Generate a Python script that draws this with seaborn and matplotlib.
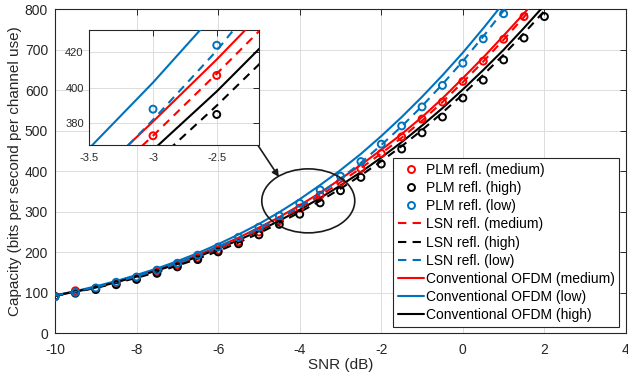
import numpy as np
import pandas as pd
import matplotlib
matplotlib.use("Agg")
import matplotlib.pyplot as plt
from matplotlib.lines import Line2D
from matplotlib.patches import Ellipse
import seaborn as sns

# ---------------- data ----------------
snr = [-10, -9.5, -9, -8.5, -8, -7.5, -7, -6.5, -6, -5.5, -5, -4.5, -4,
       -3.5, -3, -2.5, -2, -1.5, -1, -0.5, 0, 0.5, 1, 1.5, 2, 2.5]

# PLM reflection (markers)
plm_medium = [91, 105, 110, 123, 137, 152, 169, 186, 205, 226, 250, 278, 309,
              341, 373, 407, 444, 485, 529, 571, 622, 672, 726, 782]
plm_high = [91, 99, 108, 120, 133, 148, 164, 182, 201, 221, 243, 269, 294,
            322, 352, 385, 418, 455, 495, 534, 581, 625, 675, 729, 782]
plm_low = [90, 101, 112, 126, 139, 156, 173, 193, 213, 237, 262, 290, 321,
           354, 388, 424, 467, 512, 559, 612, 667, 727, 789]

# LSN reflection (dashed)
lsn_medium = [93, 102, 113, 125, 139, 154, 171, 189, 209, 231, 255, 281, 309,
              340, 373, 408, 444, 483, 525, 571, 620, 671, 725, 781, 840, 901]
lsn_high = [92, 102, 112, 124, 137, 151, 167, 184, 203, 224, 247, 272, 299,
            327, 357, 390, 425, 462, 502, 545, 590, 638, 688, 741, 796, 853]
lsn_low = [93, 103, 114, 127, 141, 156, 173, 192, 213, 235, 259, 285, 313,
           345, 382, 421, 465, 511, 561, 615, 672, 733, 797, 864, 934, 1006]

# Conventional OFDM (solid)
conv_medium = [93, 103, 114, 127, 141, 157, 174, 193, 214, 236, 261, 287, 316,
               347, 381, 416, 453, 492, 534, 580, 630, 681, 735, 790, 848, 908]
conv_low = [94, 104, 116, 129, 144, 160, 178, 198, 220, 244, 270, 299, 331,
            366, 403, 443, 487, 534, 584, 637, 693, 753, 816, 882, 951, 1023]
conv_high = [93, 103, 113, 126, 140, 155, 171, 189, 209, 230, 253, 278, 305,
             334, 365, 398, 434, 472, 513, 556, 602, 650, 700, 754, 810, 868]

x_ticks = [-10, -8, -6, -4, -2, 0, 2, 4]
y_ticks = [0, 100, 200, 300, 400, 500, 600, 700, 800]
inset_x_ticks = [-3.5, -3, -2.5]
inset_y_ticks = [380, 400, 420]

RED, BLACK, BLUE = "#FF0000", "#000000", "#0072BD"
AXC = "#262626"

series_markers = [("PLM refl. (medium)", plm_medium, RED),
                  ("PLM refl. (high)", plm_high, BLACK),
                  ("PLM refl. (low)", plm_low, BLUE)]
series_dashed = [("LSN refl. (medium)", lsn_medium, RED),
                 ("LSN refl. (high)", lsn_high, BLACK),
                 ("LSN refl. (low)", lsn_low, BLUE)]
series_solid = [("Conventional OFDM (medium)", conv_medium, RED),
                ("Conventional OFDM (low)", conv_low, BLUE),
                ("Conventional OFDM (high)", conv_high, BLACK)]

# ---------------- style ----------------
sns.set_theme(style="whitegrid")
plt.rcParams["font.family"] = ["Liberation Sans", "DejaVu Sans"]
plt.rcParams["axes.edgecolor"] = AXC
plt.rcParams["xtick.color"] = AXC
plt.rcParams["ytick.color"] = AXC

fig = plt.figure(figsize=(6.28, 3.80), dpi=100)
ax = fig.add_axes([55 / 628, 1 - 333.3 / 380, (626 - 55) / 628, (333.3 - 9.3) / 380])


def draw(a, lw=1.5, ms=5):
    for name, vals, c in series_solid:
        df = pd.DataFrame({"snr": snr[:len(vals)], "cap": vals})
        sns.lineplot(data=df, x="snr", y="cap", ax=a, color=c, lw=lw,
                     linestyle="-", legend=False, zorder=3)
    for name, vals, c in series_dashed:
        df = pd.DataFrame({"snr": snr[:len(vals)], "cap": vals})
        sns.lineplot(data=df, x="snr", y="cap", ax=a, color=c, lw=lw,
                     linestyle="--", dashes=False, legend=False, zorder=3)
        a.lines[-1].set_dashes([4, 3])
    for name, vals, c in series_markers:
        df = pd.DataFrame({"snr": snr[:len(vals)], "cap": vals})
        sns.scatterplot(data=df, x="snr", y="cap", ax=a, marker="o",
                        facecolors="none", edgecolor=c, linewidth=1.4,
                        s=ms ** 2, legend=False, zorder=4)


def style_axes(a, xt, yt, fs, xpad, ypad):
    a.set_facecolor("white")
    a.set_xticks(xt)
    a.set_yticks(yt)
    a.grid(True, color="#dcdcdc", lw=0.7)
    a.tick_params(direction="in", length=4, width=0.7, top=True, right=True,
                  labelsize=fs, colors=AXC)
    a.tick_params(axis="x", pad=xpad)
    a.tick_params(axis="y", pad=ypad)
    for sp in a.spines.values():
        sp.set_visible(True)
        sp.set_color(AXC)
        sp.set_linewidth(0.8)
    a.set_xlabel("")
    a.set_ylabel("")


draw(ax)
style_axes(ax, x_ticks, y_ticks, 10, 7, 5)
ax.set_xlim(-10, 4)
ax.set_ylim(0, 800)
ax.set_xticklabels([str(t) for t in x_ticks])
ax.set_xlabel("SNR (dB)", fontsize=11, color=AXC, labelpad=1)
ax.set_ylabel("Capacity (bits per second per channel use)", fontsize=11,
              color=AXC, labelpad=2)

# ellipse and arrow
ax.add_patch(Ellipse((-3.79, 327), 2.28, 158, fill=False, ec="k", lw=1.2, zorder=5))
ax.annotate("", xy=(-4.51, 386), xytext=(-5.03, 465),
            arrowprops=dict(arrowstyle="-|>", color="k", lw=1.2,
                            mutation_scale=10, shrinkA=0, shrinkB=0), zorder=5)

# legend
handles = []
for name, vals, c in series_markers:
    handles.append(Line2D([], [], ls="none", marker="o", mfc="none", mec=c,
                          mew=1.4, ms=5, label=name))
for name, vals, c in series_dashed:
    handles.append(Line2D([], [], ls="--", dashes=[4, 3], color=c, lw=1.5, label=name))
for name, vals, c in series_solid:
    handles.append(Line2D([], [], ls="-", color=c, lw=1.5, label=name))
leg = ax.legend(handles=handles, loc="upper left",
                bbox_to_anchor=(393 / 628, 1 - 158 / 380),
                bbox_transform=fig.transFigure, fontsize=10, frameon=True,
                fancybox=False, framealpha=1, edgecolor=AXC, borderpad=0.35,
                labelspacing=0.3, handlelength=1.9, handletextpad=0.1,
                borderaxespad=0)
leg.get_frame().set_linewidth(0.8)
leg.set_zorder(10)
for t in leg.get_texts():
    t.set_color("#000000")

# inset
axi = fig.add_axes([89.3 / 628, 1 - 145 / 380, 170 / 628, 115 / 380])
draw(axi)
style_axes(axi, inset_x_ticks, inset_y_ticks, 8, 6, 4)
axi.set_xlim(-3.5, -2.166)
axi.set_ylim(367.8, 432.6)
axi.set_xticklabels([str(t) for t in inset_x_ticks])

fig.savefig("out.png", dpi=100)
